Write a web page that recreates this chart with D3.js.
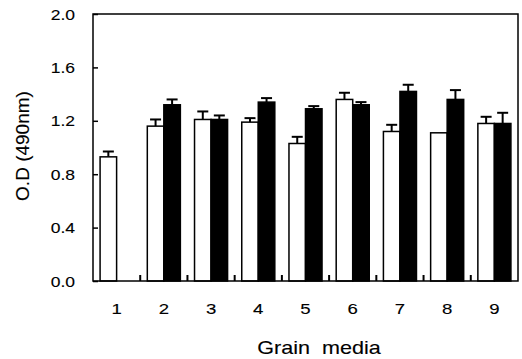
<!DOCTYPE html>
<html>
<head>
<meta charset="utf-8">
<script src="https://cdn.jsdelivr.net/npm/d3@7"></script>
<style>
  html, body { margin: 0; padding: 0; background: #fff; }
  svg { display: block; }
  text { font-family: Arial, "Liberation Sans", sans-serif; fill: #000; stroke: #000; stroke-width: 0.12px; }
</style>
</head>
<body>
<div id="chart"></div>
<script>
const groups = ['1', '2', '3', '4', '5', '6', '7', '8', '9'];
const series = ['open', 'filled'];
const openVals = [0.93, 1.16, 1.21, 1.19, 1.03, 1.36, 1.12, 1.11, 1.18];
const openErr = [0.04, 0.05, 0.06, 0.03, 0.05, 0.05, 0.05, 0.00, 0.05];
const filledVals = [null, 1.32, 1.21, 1.34, 1.29, 1.32, 1.42, 1.36, 1.18];
const filledErr = [null, 0.04, 0.03, 0.03, 0.02, 0.02, 0.05, 0.07, 0.08];
const yTicks = [0, 0.4, 0.8, 1.2, 1.6, 2.0];

const W = 522, H = 359;
const margin = {top: 14, right: 4, bottom: 78, left: 93};

const svg = d3.select('#chart').append('svg').attr('width', W).attr('height', H);

const x = d3.scaleBand().domain(groups).range([margin.left, W - margin.right]);
const x1 = d3.scaleBand().domain(series)
  .range([x.bandwidth() * 0.15, x.bandwidth() * 0.85]);
const y = d3.scaleLinear().domain([0, 2]).range([H - margin.bottom, margin.top]);

const rows = [];
groups.forEach((g, i) => {
  rows.push({g: g, s: 'open', v: openVals[i], e: openErr[i]});
  if (filledVals[i] != null) rows.push({g: g, s: 'filled', v: filledVals[i], e: filledErr[i]});
});

// error bars (drawn first so the bar top sits over the stem)
const err = svg.append('g').attr('stroke', '#000').attr('stroke-width', 2);
const withErr = rows.filter(d => d.e > 0);
err.selectAll('line.stem').data(withErr).join('line')
  .attr('x1', d => x(d.g) + x1(d.s) + x1.bandwidth() / 2)
  .attr('x2', d => x(d.g) + x1(d.s) + x1.bandwidth() / 2)
  .attr('y1', d => y(d.v))
  .attr('y2', d => y(d.v + d.e));
err.selectAll('line.cap').data(withErr).join('line')
  .attr('x1', d => x(d.g) + x1(d.s) + x1.bandwidth() / 2 - 5.5)
  .attr('x2', d => x(d.g) + x1(d.s) + x1.bandwidth() / 2 + 5.5)
  .attr('y1', d => y(d.v + d.e))
  .attr('y2', d => y(d.v + d.e));

// bars
svg.append('g').selectAll('rect').data(rows).join('rect')
  .attr('x', d => x(d.g) + x1(d.s))
  .attr('y', d => y(d.v))
  .attr('width', x1.bandwidth())
  .attr('height', d => y(0) - y(d.v))
  .attr('fill', d => d.s === 'open' ? '#fff' : '#000')
  .attr('stroke', '#000')
  .attr('stroke-width', 1.5);

// frame
svg.append('rect')
  .attr('x', margin.left).attr('y', margin.top)
  .attr('width', W - margin.left - margin.right)
  .attr('height', H - margin.top - margin.bottom)
  .attr('fill', 'none').attr('stroke', '#000').attr('stroke-width', 1.5);

// y axis, inward ticks
const yAxis = svg.append('g')
  .attr('transform', `translate(${margin.left},0)`)
  .call(d3.axisLeft(y).tickValues(yTicks).tickFormat(d3.format('.1f'))
    .tickSizeInner(-5).tickSizeOuter(0));
yAxis.select('.domain').remove();
yAxis.selectAll('line').attr('stroke-width', 1.5);
yAxis.selectAll('text')
  .attr('x', null).attr('dy', null)
  .attr('fill', '#000')
  .attr('transform', 'translate(-18,5) scale(1.25,1)')
  .style('font-size', '14px');

// x separator ticks between groups
svg.append('g').selectAll('line').data(groups.slice(1)).join('line')
  .attr('x1', d => x(d)).attr('x2', d => x(d))
  .attr('y1', y(0)).attr('y2', y(0) - 6)
  .attr('stroke', '#000').attr('stroke-width', 2);

// x labels
svg.append('g').selectAll('text').data(groups).join('text')
  .attr('transform', d => `translate(${x(d) + x.bandwidth() / 2},314) scale(1.2,1)`)
  .attr('text-anchor', 'middle')
  .style('font-size', '15.5px')
  .text(d => d);

svg.append('text')
  .attr('transform', 'translate(319,354) scale(1.2,1)')
  .attr('text-anchor', 'middle')
  .style('font-size', '18px')
  .style('white-space', 'pre')
  .text('Grain  media');

svg.append('text')
  .attr('transform', 'translate(29,146) rotate(-90)')
  .attr('text-anchor', 'middle')
  .style('font-size', '19px')
  .text('O.D (490nm)');
</script>
</body>
</html>
